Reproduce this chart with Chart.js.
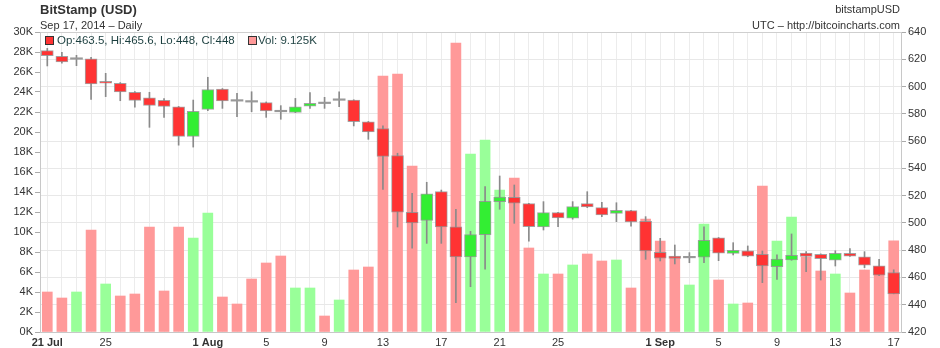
<!DOCTYPE html>
<html><head><meta charset="utf-8">
<script src="https://cdn.jsdelivr.net/npm/chart.js@4/dist/chart.umd.min.js"></script>
<style>
html,body{margin:0;padding:0;background:#fff;}
#wrap{position:relative;width:940px;height:348px;font-family:"Liberation Sans",Arial,sans-serif;overflow:hidden;}
#c{position:absolute;left:0;top:0;}
.t{position:absolute;white-space:nowrap;line-height:1;}
.sq{position:absolute;width:7px;height:7px;border:1px solid #333;}
</style></head><body>
<div id="wrap">
<canvas id="c" width="940" height="348"></canvas>
<div class="t" style="left:40px;top:3px;font-size:13px;font-weight:bold;color:#333;">BitStamp (USD)</div>
<div class="t" style="left:40px;top:20px;font-size:11px;color:#333;">Sep 17, 2014 – Daily</div>
<div class="t" style="right:40px;top:4px;font-size:11px;color:#333;">bitstampUSD</div>
<div class="t" style="right:40px;top:20px;font-size:11px;color:#333;">UTC – http://bitcoincharts.com</div>
<div class="sq" style="left:45px;top:36px;background:#ff3333;"></div>
<div class="t" id="lg1" style="left:57px;top:35px;font-size:11.5px;color:#1b3f3f;"></div>
<div class="sq" style="left:248px;top:36px;background:#ff9999;"></div>
<div class="t" id="lg2" style="left:258px;top:35px;font-size:11.5px;color:#1b3f3f;"></div>
</div>
<script>
// Categories (daily, 21 Jul – 17 Sep 2014)
const days = ['21 Jul','22','23','24','25','26','27','28','29','30','31',
  '1 Aug','2','3','4','5','6','7','8','9','10','11','12','13','14','15','16','17','18','19','20','21','22','23','24','25','26','27','28','29','30','31',
  '1 Sep','2','3','4','5','6','7','8','9','10','11','12','13','14','15','16','17'];
// Tick labels shown on the x axis
const shownTicks = ['21 Jul','25','1 Aug','5','9','13','17','21','1 Sep'];
// Price (USD)
const open  = [626.3,622.2,620.0,620.4,603.8,602.4,595.8,591.8,589.9,585.2,563.5,
  583.3,598.1,589.6,588.9,588.2,581.8,581.1,585.7,587.8,589.9,590.1,574.2,569.1,549.3,507.8,501.9,522.9,497.2,475.0,491.4,515.6,518.8,514.1,497.0,507.5,503.4,514.1,511.2,507.0,509.0,501.2,
  478.4,475.6,474.4,474.8,489.1,477.7,479.6,477.0,467.9,472.8,477.9,477.0,472.6,477.7,475.2,468.6,463.5];
const high  = [628.0,625.1,622.9,621.4,609.7,602.9,596.3,595.8,591.1,585.4,590.1,
  606.8,598.5,595.0,596.2,588.7,586.0,591.3,595.6,592.1,596.2,590.3,574.4,571.1,551.1,521.7,529.8,524.1,510.0,493.8,526.6,534.4,527.8,514.4,515.6,507.7,515.6,522.9,515.1,514.8,509.2,504.6,
  488.7,483.8,478.2,497.2,489.3,485.5,483.1,479.4,476.5,491.9,478.9,477.3,479.6,481.1,478.9,473.3,465.6];
const low   = [615.1,617.1,615.3,590.6,592.6,589.6,584.8,570.1,577.4,557.0,555.6,
  582.3,584.0,577.9,581.5,577.4,576.0,580.8,584.0,584.0,585.2,571.1,561.3,524.6,497.0,481.4,485.0,485.0,441.5,453.2,466.0,510.0,499.7,486.7,494.8,497.2,502.7,511.2,504.6,500.9,497.7,473.3,
  472.1,469.9,470.8,470.8,472.3,476.5,475.2,456.2,458.6,472.6,464.2,458.1,468.4,475.5,467.2,461.4,448.0];
const close = [622.6,618.1,620.3,601.9,602.4,596.0,589.9,586.2,585.5,563.5,581.8,
  597.8,589.4,589.3,588.6,582.1,581.5,585.2,587.7,587.5,590.2,574.2,566.7,548.8,507.8,500.0,521.4,497.0,475.0,491.4,515.8,519.0,514.4,497.2,507.5,503.6,512.0,511.7,505.8,509.2,500.7,479.4,
  474.2,473.9,474.7,487.2,477.9,479.9,475.7,468.4,473.5,476.2,475.5,473.8,477.7,475.7,469.1,461.6,448.0];
// Volume (thousands)
const volume = [4.0,3.4,4.0,10.2,4.8,3.6,3.8,10.5,4.1,10.5,9.4,
  11.9,3.5,2.8,5.3,6.9,7.6,4.4,4.4,1.6,3.2,6.2,6.5,25.6,25.8,16.6,12.5,13.5,28.9,17.8,19.2,14.2,15.4,8.4,5.8,5.8,6.7,7.8,7.1,7.2,4.4,11.3,
  9.1,7.4,4.7,10.8,5.2,2.8,2.9,14.6,9.1,11.5,7.5,6.1,5.8,3.9,6.2,6.3,9.125];
// Axis tick ranges
const volTicks = {min:0, max:30, step:2};
const priceTicks = {min:420, max:640, step:20};

const FONT = '"Liberation Sans", Arial, sans-serif';
const last = days.length - 1;
document.getElementById('lg1').textContent = `Op:${open[last]}, Hi:${high[last]}, Lo:${low[last]}, Cl:${close[last]}`;
document.getElementById('lg2').textContent = `Vol: ${volume[last]}K`;

const isDoji = i => Math.abs(close[i]-open[i]) < 0.5;
const bodyColor = i => isDoji(i) ? '#999999' : (close[i] > open[i] ? '#33ee33' : '#ff3333');
const volColor = i => {
  const prev = i === 0 ? open[0] : close[i-1];
  return close[i] >= prev ? '#99ff99' : '#ff9999';
};

const zeroPad = s => { s.paddingTop = 0; s.paddingBottom = 0; s.paddingLeft = 0; s.paddingRight = 0; };

new Chart(document.getElementById('c'), {
  type: 'bar',
  data: {
    labels: days,
    datasets: [
      { label:'Volume', yAxisID:'yv', order:3, grouped:false,
        data: volume, barThickness:10,
        backgroundColor: days.map((d,i)=>volColor(i)) },
      { label:'Wick', yAxisID:'yp', order:2, grouped:false,
        data: days.map((d,i)=>[low[i], high[i]]), barThickness:1,
        backgroundColor:'#8a8a8a' },
      { label:'Body', yAxisID:'yp', order:1, grouped:false,
        data: days.map((d,i)=>[open[i], close[i]]), barThickness:12, minBarLength:1.5,
        backgroundColor: days.map((d,i)=>bodyColor(i)),
        borderColor: days.map((d,i)=> isDoji(i) ? '#999999' : 'rgba(140,140,140,0.8)'),
        borderWidth: days.map((d,i)=> isDoji(i) ? 0 : 1),
        borderSkipped:false }
    ]
  },
  options: {
    responsive:false, animation:false,
    layout:{ padding:{ top:32, left:0, right:0, bottom:0 } },
    plugins:{ legend:{display:false}, tooltip:{enabled:false}, title:{display:false} },
    scales:{
      x:{
        offset:true,
        grid:{ offset:false, color:'#ececec', drawTicks:false },
        border:{ color:'#c8c8c8' },
        ticks:{ autoSkip:false, maxRotation:0, minRotation:0, padding:4, color:'#333',
          callback:(v,i)=> shownTicks.includes(days[i]) ? days[i] : '',
          font:(ctx)=>({ family:FONT, size:11, weight: (ctx.tick && /\s/.test(String(ctx.tick.label))) ? 'bold' : 'normal' }) },
        afterFit:(s)=>{ s.height = 16; zeroPad(s); }
      },
      yv:{
        position:'left', min:volTicks.min, max:volTicks.max,
        grid:{ drawOnChartArea:false, tickLength:5, tickColor:'#aaaaaa' },
        border:{ color:'#c8c8c8' },
        ticks:{ stepSize:volTicks.step, padding:2, color:'#333', font:{family:FONT,size:11},
          callback:(v)=> v + 'K' },
        afterFit:(s)=>{ s.width = 40; zeroPad(s); }
      },
      yp:{
        position:'right', min:priceTicks.min, max:priceTicks.max,
        grid:{ color:(ctx)=> (ctx.tick && ctx.tick.value === priceTicks.max) ? '#cfcfcf' : '#e8e8e8',
               tickLength:5, tickColor:'#aaaaaa' },
        border:{ color:'#c8c8c8' },
        ticks:{ stepSize:priceTicks.step, padding:2, color:'#333', font:{family:FONT,size:11} },
        afterFit:(s)=>{ s.width = 39; zeroPad(s); }
      }
    }
  }
});
</script>
</body></html>
